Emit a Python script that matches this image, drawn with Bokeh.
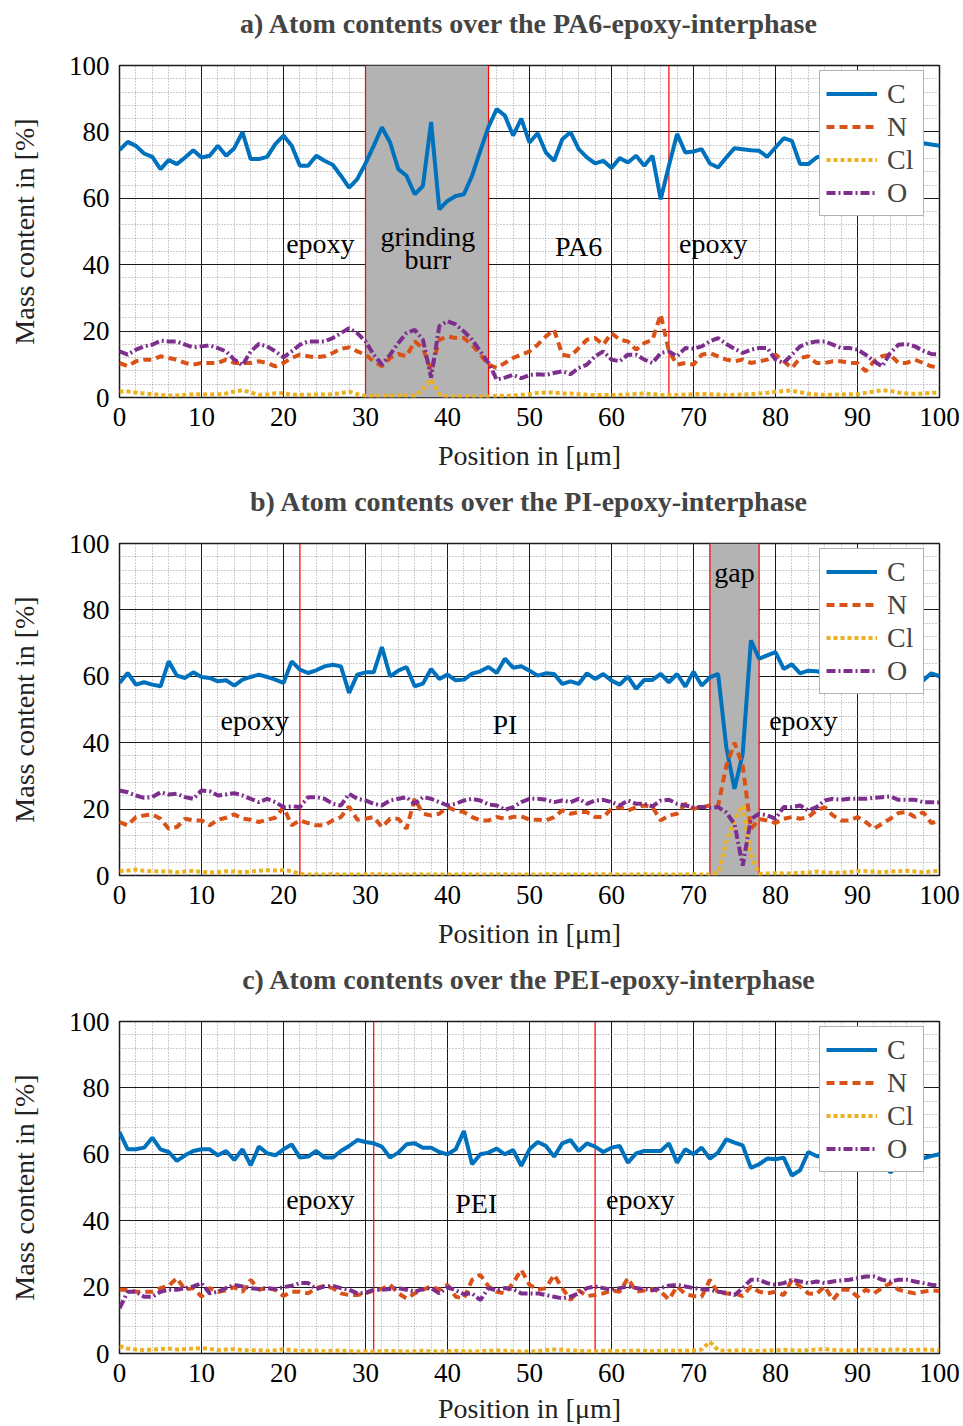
from bokeh.plotting import figure
from bokeh.layouts import column
from bokeh.models import Range1d, SingleIntervalTicker, Legend, LegendItem
from bokeh.core.properties import value
from bokeh.embed import file_html
from bokeh.resources import INLINE

FONT = "Liberation Serif"

position_um = list(range(101))

# ---------------- panel a: PA6 ----------------
a_C = [74.5, 77, 75.8, 73.5, 72.5, 68.8, 71.5, 70.3, 72.3, 74.5, 72.3, 72.8, 75.8, 72.8, 75.1, 79.9, 71.8, 71.8, 72.5, 76.3,
       78.9, 75.8, 69.8, 69.8, 72.8, 71.3, 70.1, 66.8, 63.2, 65.8, 70.5, 75.8, 81.4, 76.8, 68.8, 66.8, 61.2, 63.7, 83.0, 56.7,
       59.2, 60.7, 61.2, 66.8, 74.3, 81.5, 86.9, 84.9, 78.9, 84.0, 76.8, 79.6, 73.8, 71.3, 77.8, 79.9, 74.8, 72.3, 70.5, 71.3,
       69.1, 72.1, 70.8, 72.8, 69.8, 72.8, 59.7, 69.8, 79.4, 73.8, 74.1, 74.8, 70.5, 69.3, 72.3, 75.1, 74.8, 74.5, 74.3, 72.5,
       75.3, 78.1, 77.3, 70.3, 70.3, 72.3, 73.0, 74.0, 75.0, 73.5, 74.0, 75.0, 74.5, 73.0, 74.0, 75.0, 74.5, 75.5, 76.6, 76.2,
       75.8]
a_N = [10.4, 9.4, 10.9, 11.4, 11.4, 12.4, 11.9, 11.4, 10.4, 9.9, 10.4, 10.4, 10.4, 11.4, 10.4, 10.4, 10.4, 10.9, 10.4, 9.4,
       10.4, 11.9, 12.9, 12.4, 12.1, 12.4, 13.4, 14.7, 15.1, 13.9, 12.9, 10.9, 9.4, 11.9, 13.1, 12.4, 16.9, 14.9, 8.0, 17.4,
       18.4, 17.9, 17.9, 15.9, 12.9, 9.9, 8.9, 10.4, 11.9, 12.9, 13.9, 15.9, 18.4, 20.4, 12.9, 12.4, 14.9, 17.4, 17.9, 15.9,
       19.4, 17.4, 16.9, 14.4, 16.4, 17.4, 25.0, 13.9, 9.9, 10.4, 9.9, 12.9, 13.4, 12.4, 11.4, 10.9, 11.4, 10.4, 10.9, 11.4,
       12.9, 10.9, 8.9, 11.9, 12.4, 10.4, 10.4, 10.9, 10.9, 10.4, 10.4, 7.9, 10.9, 12.4, 12.9, 10.4, 10.4, 11.4, 10.4, 9.4,
       9.0]
a_Cl = [1.8, 1.8, 1.5, 1.2, 1.0, 0.8, 0.6, 0.6, 0.8, 1.0, 1.0, 0.9, 1.0, 1.2, 1.8, 2.2, 1.5, 0.8, 0.9, 1.3,
        1.3, 0.8, 0.8, 0.8, 0.9, 0.9, 1.0, 1.3, 1.8, 1.0, 0.5, 0.5, 0.5, 0.5, 0.6, 0.6, 0.5, 2.5, 5.5, 1.0,
        0.3, 0.3, 0.3, 0.3, 0.3, 0.3, 0.5, 0.5, 0.6, 0.8, 1.0, 1.4, 1.5, 1.5, 1.2, 1.2, 1.0, 0.8, 0.7, 0.8,
        0.7, 0.8, 0.9, 1.1, 1.2, 1.0, 0.8, 0.7, 0.8, 0.9, 1.0, 1.1, 1.0, 0.9, 0.8, 0.8, 0.9, 1.0, 1.2, 1.4,
        1.7, 2.0, 2.0, 1.6, 1.1, 0.9, 0.8, 0.8, 0.9, 1.0, 1.0, 1.4, 1.8, 2.2, 2.0, 1.5, 1.2, 1.1, 1.2, 1.4,
        1.5]
a_O = [13.9, 12.9, 14.4, 15.4, 15.9, 17.1, 16.9, 16.9, 15.9, 15.1, 15.4, 15.7, 14.9, 13.9, 11.4, 9.7, 13.9, 16.1, 15.4, 13.9,
       12.1, 13.9, 15.9, 16.9, 16.9, 16.9, 17.9, 19.4, 20.9, 19.4, 16.9, 12.9, 9.9, 12.9, 16.4, 19.4, 20.4, 17.4, 6.0, 21.5,
       23.0, 22.0, 19.9, 17.4, 13.9, 10.4, 5.4, 6.0, 6.8, 5.8, 6.8, 7.0, 6.8, 7.4, 7.9, 7.0, 8.9, 9.9, 12.4, 13.9,
       11.4, 10.9, 12.9, 12.9, 11.4, 10.4, 13.4, 13.9, 12.4, 14.9, 14.7, 15.4, 16.9, 17.9, 16.1, 14.7, 13.4, 14.4, 14.9, 14.9,
       11.4, 10.4, 12.9, 15.4, 16.4, 16.9, 16.9, 15.9, 14.9, 14.9, 14.4, 12.9, 10.9, 9.4, 13.4, 15.9, 16.1, 15.4, 14.1, 13.1,
       13.0]
a_regions = [(30, 45)]
a_lines = [30, 45, 67]
a_label_text = ["epoxy", "grinding", "burr", "PA6", "epoxy"]
a_label_x = [24.5, 37.6, 37.6, 56.0, 72.4]
a_label_y = [46.4, 48.5, 41.6, 45.5, 46.4]

# ---------------- panel b: PI ----------------
b_C = [58.0, 61.0, 57.5, 58.2, 57.5, 57.0, 64.5, 60.2, 59.5, 61.2, 59.8, 59.5, 58.5, 58.8, 57.2, 59.0, 59.8, 60.5, 59.8, 59.0,
       58.0, 64.5, 62.0, 61.0, 61.8, 63.0, 63.5, 63.0, 55.0, 60.5, 61.2, 61.2, 68.8, 60.0, 61.7, 62.8, 57.0, 57.8, 62.2, 59.2,
       60.5, 58.8, 59.0, 60.8, 61.5, 62.8, 61.0, 65.3, 62.6, 63.0, 61.7, 60.2, 60.9, 60.7, 57.7, 58.5, 57.7, 60.9, 59.2, 60.7,
       58.7, 57.5, 59.9, 56.2, 58.9, 58.9, 60.7, 58.2, 60.7, 56.9, 61.4, 57.2, 59.7, 60.7, 38.7, 26.1, 36.6, 70.8, 65.3, 66.3,
       67.3, 62.2, 63.6, 60.9, 61.7, 61.5, 61.0, 60.5, 61.5, 60.0, 61.0, 60.5, 61.2, 60.0, 59.5, 61.0, 60.5, 59.5, 58.7, 60.9,
       60.0]
b_N = [16.1, 15.1, 17.6, 18.1, 18.4, 17.1, 14.1, 14.6, 17.1, 16.6, 16.6, 15.1, 16.8, 17.4, 18.4, 17.1, 16.8, 16.1, 16.8, 17.4,
       20.6, 15.1, 16.6, 15.8, 15.1, 15.1, 16.6, 17.6, 20.8, 16.8, 17.1, 17.6, 14.6, 17.1, 17.1, 14.1, 23.1, 18.6, 18.1, 18.6,
       20.6, 19.6, 19.1, 17.6, 16.6, 16.6, 17.6, 17.1, 17.6, 17.8, 16.8, 16.8, 16.6, 17.6, 19.6, 18.6, 19.1, 19.1, 17.6, 17.6,
       20.1, 20.6, 19.6, 20.6, 21.1, 20.6, 16.6, 18.1, 18.6, 21.6, 20.1, 20.6, 21.1, 21.0, 33.0, 40.0, 33.0, 14.0, 17.0, 16.6,
       15.8, 17.1, 17.6, 17.1, 17.6, 19.6, 20.6, 18.1, 16.6, 16.6, 17.6, 16.1, 14.1, 15.6, 17.1, 18.8, 19.1, 17.6, 19.1, 15.8,
       16.5]
b_Cl = [1.3, 1.5, 1.8, 1.4, 1.3, 1.3, 1.2, 1.0, 1.2, 1.4, 1.1, 0.9, 1.0, 1.3, 1.2, 1.0, 1.2, 1.4, 1.6, 1.5,
        1.6, 1.3, 0.5, 0.3, 0.3, 0.3, 0.4, 0.3, 0.3, 0.3, 0.3, 0.4, 0.3, 0.3, 0.3, 0.3, 0.4, 0.3, 0.3, 0.3,
        0.3, 0.3, 0.4, 0.3, 0.3, 0.3, 0.3, 0.4, 0.3, 0.3, 0.3, 0.3, 0.3, 0.4, 0.3, 0.3, 0.3, 0.3, 0.3, 0.4,
        0.3, 0.3, 0.3, 0.3, 0.4, 0.3, 0.3, 0.3, 0.3, 0.3, 0.4, 0.3, 0.3, 0.8, 10.0, 17.0, 21.0, 6.0, 0.5, 0.6,
        0.7, 0.6, 0.6, 0.8, 0.9, 1.2, 0.9, 0.8, 0.9, 1.0, 1.4, 1.3, 1.1, 1.0, 1.2, 1.3, 1.4, 1.2, 1.0, 1.2,
        1.4]
b_O = [25.6, 25.1, 24.1, 23.4, 23.6, 25.1, 24.4, 24.6, 23.6, 23.1, 25.6, 25.4, 24.1, 24.4, 24.8, 24.1, 23.1, 22.1, 23.1, 22.1,
       20.6, 20.8, 20.6, 23.6, 23.6, 23.1, 21.6, 21.1, 24.6, 23.1, 22.6, 21.6, 21.1, 22.6, 23.1, 23.6, 21.6, 23.6, 23.1, 22.1,
       21.1, 21.6, 22.6, 23.1, 22.6, 21.4, 21.1, 19.8, 20.6, 22.1, 23.1, 23.1, 22.8, 22.1, 22.6, 22.1, 23.1, 21.6, 22.6, 22.8,
       22.1, 21.1, 22.6, 21.6, 21.6, 20.8, 22.6, 22.8, 21.6, 21.1, 20.6, 20.6, 20.4, 20.6, 19.0, 15.5, 3.0, 17.0, 18.6, 18.1,
       17.1, 20.6, 20.6, 21.1, 19.6, 20.6, 22.6, 23.1, 22.8, 23.1, 23.1, 23.1, 23.4, 23.6, 23.8, 22.8, 22.8, 22.8, 22.1, 22.1,
       22.0]
b_regions = [(72, 78)]
b_lines = [22, 72, 78]
b_label_text = ["epoxy", "PI", "gap", "epoxy"]
b_label_x = [16.5, 47.0, 75.0, 83.4]
b_label_y = [46.7, 45.5, 91.3, 46.7]

# ---------------- panel c: PEI ----------------
c_C = [66.7, 61.5, 61.5, 62.0, 65.0, 61.5, 60.7, 58.0, 59.7, 61.0, 61.5, 61.5, 59.7, 61.0, 58.3, 61.5, 56.7, 62.3, 60.3, 59.7,
       61.5, 63.0, 59.0, 59.3, 61.0, 59.0, 59.0, 61.0, 62.5, 64.3, 63.7, 63.3, 62.3, 59.0, 60.5, 63.0, 63.3, 62.0, 62.0, 60.7,
       60.0, 61.5, 67.0, 57.0, 60.0, 60.5, 61.7, 60.0, 61.3, 56.5, 61.5, 63.7, 62.5, 59.3, 63.3, 64.3, 61.0, 63.3, 62.3, 60.7,
       62.0, 62.5, 57.5, 60.3, 61.0, 61.0, 61.0, 63.3, 57.5, 61.5, 60.0, 62.0, 58.7, 60.5, 64.5, 63.5, 62.7, 55.9, 57.0, 58.7,
       58.5, 59.0, 53.6, 55.2, 60.7, 59.5, 59.0, 58.0, 59.0, 60.0, 58.0, 57.0, 58.0, 59.0, 54.5, 57.0, 59.0, 59.0, 58.8, 59.5,
       60.0]
c_N = [19.2, 19.2, 18.6, 18.6, 18.6, 19.7, 20.4, 22.7, 19.2, 19.7, 17.1, 19.7, 18.6, 19.0, 20.0, 18.6, 22.2, 19.2, 19.7, 19.2,
       17.3, 18.6, 18.6, 18.1, 19.7, 20.4, 19.7, 18.1, 17.6, 17.6, 18.1, 19.0, 19.4, 20.7, 18.1, 16.6, 18.1, 19.2, 20.2, 19.2,
       20.7, 17.1, 16.6, 22.2, 23.7, 20.2, 18.6, 18.1, 21.2, 25.2, 20.7, 19.2, 19.7, 23.7, 19.7, 16.1, 19.0, 17.3, 17.6, 18.1,
       19.0, 18.6, 22.7, 18.6, 19.0, 19.4, 18.6, 16.3, 20.2, 17.9, 17.3, 17.1, 22.2, 18.3, 18.1, 18.1, 17.3, 20.2, 18.6, 18.1,
       18.6, 17.6, 22.2, 20.2, 18.1, 17.9, 20.2, 16.1, 19.2, 19.2, 17.1, 19.2, 18.1, 19.7, 21.2, 19.2, 18.6, 18.1, 18.6, 19.0,
       18.8]
c_Cl = [2.2, 1.5, 1.2, 1.0, 1.2, 1.3, 1.5, 1.2, 1.3, 1.5, 1.6, 1.4, 1.0, 1.2, 1.3, 1.0, 1.0, 1.0, 0.8, 1.0,
        1.3, 1.0, 0.8, 0.8, 0.9, 0.7, 0.8, 0.9, 0.7, 0.6, 0.7, 0.6, 0.7, 0.8, 0.7, 0.6, 0.7, 0.8, 0.7, 0.6,
        0.7, 0.8, 0.7, 0.6, 0.7, 0.8, 0.9, 0.8, 0.7, 0.6, 0.6, 0.7, 1.0, 1.2, 1.1, 0.9, 0.8, 0.7, 0.7, 0.8,
        0.8, 0.7, 0.8, 0.9, 0.8, 0.7, 0.8, 0.9, 0.8, 0.8, 0.9, 1.2, 3.5, 1.0, 0.8, 0.9, 1.0, 0.9, 0.8, 0.9,
        1.0, 1.1, 1.0, 0.9, 1.0, 1.2, 1.3, 1.1, 1.0, 0.9, 1.0, 1.2, 1.1, 1.0, 1.1, 1.2, 1.0, 1.1, 1.2, 1.1,
        1.0]
c_O = [13.6, 18.6, 18.6, 17.1, 17.1, 18.6, 19.2, 19.2, 19.7, 20.2, 21.2, 18.1, 18.6, 19.7, 20.7, 20.2, 19.7, 19.4, 19.7, 19.4,
       20.0, 20.4, 21.2, 21.2, 19.4, 20.2, 20.4, 19.7, 19.2, 18.1, 18.3, 19.2, 19.2, 19.4, 19.7, 19.2, 18.6, 19.4, 19.7, 18.1,
       20.0, 19.0, 17.9, 18.1, 16.1, 19.7, 19.0, 19.7, 19.4, 18.1, 18.1, 18.1, 17.6, 17.1, 16.6, 17.1, 18.1, 19.7, 20.2, 19.7,
       19.2, 19.7, 20.2, 19.7, 19.4, 19.0, 19.7, 20.4, 20.7, 20.2, 19.7, 19.4, 19.2, 18.6, 18.3, 17.6, 19.7, 22.2, 22.2, 21.2,
       20.7, 21.2, 22.2, 21.7, 21.2, 21.7, 21.2, 21.7, 22.0, 22.2, 22.7, 23.2, 23.2, 22.2, 21.7, 22.2, 22.2, 21.7, 21.2, 20.7,
       20.5]
c_regions = []
c_lines = [31, 58]
c_label_text = ["epoxy", "PEI", "epoxy"]
c_label_x = [24.5, 43.5, 63.5]
c_label_y = [46.5, 45.3, 46.5]

titles = ["a) Atom contents over the PA6-epoxy-interphase",
          "b) Atom contents over the PI-epoxy-interphase",
          "c) Atom contents over the PEI-epoxy-interphase"]
x_label = "Position in [\u03bcm]"
y_label = "Mass content in [%]"
series_names = ["C", "N", "Cl", "O"]
series_colors = ["#0072BD", "#D95319", "#EDB120", "#7E2F8E"]
series_dash = ["solid", "8 5", "4 3", "9 3 2 3"]

panels = [
    (a_C, a_N, a_Cl, a_O, a_regions, a_lines, a_label_text, a_label_x, a_label_y),
    (b_C, b_N, b_Cl, b_O, b_regions, b_lines, b_label_text, b_label_x, b_label_y),
    (c_C, c_N, c_Cl, c_O, c_regions, c_lines, c_label_text, c_label_x, c_label_y),
]
heights = [478, 478, 470]
top_b = [65, 65, 65]
bot_b = [81, 81, 73]
xl_std = [11, 11, 8]
tk_std = [4, 4, 4]

figs = []
for i, (C, N, Cl, O, regions, lines, lt, lx, ly) in enumerate(panels):
    p = figure(width=963, height=heights[i], x_range=Range1d(0, 100), y_range=Range1d(0, 100),
               output_backend="svg", toolbar_location=None,
               min_border_left=119, min_border_right=24,
               min_border_top=top_b[i], min_border_bottom=bot_b[i],
               title=titles[i] + "\n ")
    p.title.text_font = FONT
    p.title.text_font_size = "28px"
    p.title.text_font_style = "bold"
    p.title.align = "center"
    p.title.vertical_align = "bottom"
    p.title.text_line_height = 0.8
    p.title.standoff = 3

    p.xaxis.ticker = SingleIntervalTicker(interval=10, num_minor_ticks=5)
    p.yaxis.ticker = SingleIntervalTicker(interval=20, num_minor_ticks=5)
    for ax in (p.xaxis, p.yaxis):
        ax.axis_line_color = None
        ax.major_tick_line_color = None
        ax.minor_tick_line_color = None
        ax.major_label_text_font = FONT
        ax.major_label_text_font_size = "27px"
        ax.major_label_text_color = "black"
        ax.axis_label_text_font = FONT
        ax.axis_label_text_font_size = "28px"
        ax.axis_label_text_font_style = "normal"
        ax.axis_label_text_color = "#222222"
    p.xaxis.axis_label = x_label
    p.yaxis.axis_label = y_label
    p.xaxis.major_label_standoff = tk_std[i]
    p.xaxis.axis_label_standoff = xl_std[i]
    p.yaxis.major_label_standoff = 4
    p.yaxis.axis_label_standoff = 26

    for g in (p.xgrid, p.ygrid):
        g.grid_line_color = "#1a1a1a"
        g.grid_line_alpha = 1.0
        g.grid_line_width = 1
        g.minor_grid_line_color = "#9a9a9a"
        g.minor_grid_line_dash = "1 2"
        g.minor_grid_line_width = 1

    p.outline_line_color = "#1a1a1a"
    p.outline_line_width = 1.5
    p.background_fill_color = "white"
    p.border_fill_color = "white"

    if regions:
        p.quad(left=[r[0] for r in regions], right=[r[1] for r in regions],
               bottom=[0] * len(regions), top=[100] * len(regions),
               fill_color="#b3b3b3", line_color=None)
    p.segment(x0=lines, x1=lines, y0=[0] * len(lines), y1=[100] * len(lines),
              line_color="#ff0000", line_width=1.2)

    p.text(x=lx, y=ly, text=lt, text_font=value(FONT), text_font_size="28px",
           text_align="center", text_baseline="middle", text_color="black")

    items = []
    for name, data, col, dash in zip(series_names, (C, N, Cl, O), series_colors, series_dash):
        r = p.line(position_um, data, line_color=col, line_width=4, line_dash=dash)
        items.append(LegendItem(label=name, renderers=[r]))

    leg = Legend(items=items, location=(700, 181))
    leg.label_text_font = FONT
    leg.label_text_font_size = "28px"
    leg.glyph_width = 51
    leg.glyph_height = 33
    leg.label_height = 33
    leg.label_width = 30
    leg.label_standoff = 10
    leg.spacing = 0
    leg.padding = 6
    leg.margin = 0
    leg.border_line_color = "#666666"
    leg.border_line_width = 1.5
    leg.background_fill_alpha = 1.0
    p.add_layout(leg)
    figs.append(p)

layout = column(*figs)
open("out.html", "w").write(file_html(layout, INLINE))
